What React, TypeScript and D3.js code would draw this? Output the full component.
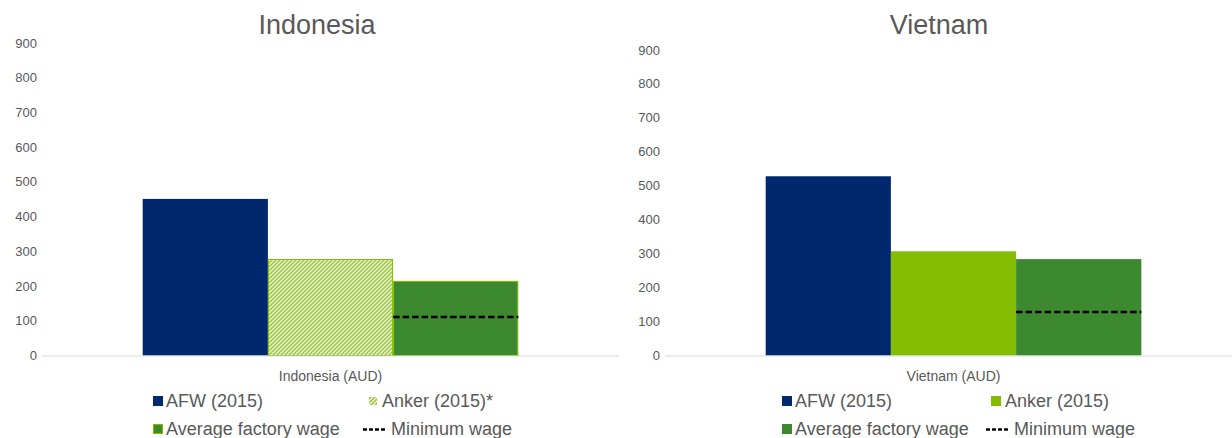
import * as d3 from "d3";

// values (AUD per month)
const seriesKeys = ["afw", "anker", "avg"];
const indonesiaValues = [451, 278, 215];
const vietnamValues = [528, 307, 284];
const indonesiaMinWage = 111;
const vietnamMinWage = 128;
const yTicks = [0, 100, 200, 300, 400, 500, 600, 700, 800, 900];

const NAVY = "#00286e";
const LIGHT = "#84bc00";
const DARK = "#3d892f";
const TEXT = "#595959";
const FONT = "'Liberation Sans', Arial, sans-serif";

type PanelProps = {
    title: string;
    titleX: number;
    category: string;
    values: number[];
    minWage: number;
    x0: number;
    x1: number;
    yTop: number;
    hatched: boolean;
    ankerLabel: string;
    legendX: [number, number];
};

function Panel({ title, titleX, category, values, minWage, x0, x1, yTop, hatched, ankerLabel, legendX }: PanelProps) {
    const y = d3.scaleLinear().domain([0, 900]).range([355.5, yTop]);
    const outer = d3.scaleBand<string>().domain([category]).range([x0, x1]).paddingOuter(0.268).paddingInner(0);
    const inner = d3.scaleBand<string>().domain(seriesKeys).range([0, outer.bandwidth()]);
    const gx = outer(category) || 0;
    const fills: Record<string, string> = {
        afw: NAVY,
        anker: hatched ? "url(#hatch)" : LIGHT,
        avg: DARK,
    };
    const avgX = gx + (inner("avg") || 0);

    return (
        <g fontFamily={FONT}>
            <text x={titleX} y={34} textAnchor="middle" fontSize={27} fill={TEXT}>
                {title}
            </text>
            {yTicks.map(t => (
                <text key={t} x={x0 - 5} y={y(t)} dy="0.35em" textAnchor="end" fontSize={13} fill={TEXT}>
                    {t}
                </text>
            ))}
            {seriesKeys.map((k, i) => {
                const bordered = hatched && k !== "afw";
                return (
                    <rect
                        key={k}
                        x={gx + (inner(k) || 0) + (bordered ? 0.5 : 0)}
                        y={y(values[i]) + (bordered ? 0.5 : 0)}
                        width={inner.bandwidth() - (bordered ? 1 : 0)}
                        height={y(0) - y(values[i]) - (bordered ? 0.5 : 0)}
                        fill={fills[k]}
                        stroke={bordered ? LIGHT : "none"}
                        strokeWidth={1}
                    />
                );
            })}
            <line
                x1={avgX}
                x2={avgX + inner.bandwidth()}
                y1={y(minWage)}
                y2={y(minWage)}
                stroke="#000"
                strokeWidth={2.5}
                strokeDasharray="6.5,3"
            />
            <line x1={x0} x2={x1} y1={y(0) + 0.5} y2={y(0) + 0.5} stroke="#d9d9d9" strokeWidth={1} />
            <text x={gx + outer.bandwidth() / 2} y={376} dy="0.35em" textAnchor="middle" fontSize={14} fill={TEXT}>
                {category}
            </text>

            {/* legend */}
            <g fontSize={18} fill={TEXT}>
                <rect x={legendX[0]} y={396} width={10} height={10} fill={NAVY} />
                <text x={legendX[0] + 13} y={401} dy="0.35em">AFW (2015)</text>
                <rect
                    x={legendX[1] + (hatched ? 0.5 : 0)}
                    y={396 + (hatched ? 0.5 : 0)}
                    width={hatched ? 9 : 10}
                    height={hatched ? 9 : 10}
                    fill={hatched ? "url(#hatch)" : LIGHT}
                    stroke={hatched ? "#fff" : "none"}
                />
                <text x={legendX[1] + 14} y={401} dy="0.35em">{ankerLabel}</text>
                <rect
                    x={legendX[0] + (hatched ? 0.5 : 0)}
                    y={424 + (hatched ? 0.5 : 0)}
                    width={hatched ? 9 : 10}
                    height={hatched ? 9 : 10}
                    fill={DARK}
                    stroke={hatched ? LIGHT : "none"}
                />
                <text x={legendX[0] + 13} y={429} dy="0.35em">Average factory wage</text>
                <line
                    x1={legendX[1] - 5}
                    x2={legendX[1] + 17}
                    y1={429.5}
                    y2={429.5}
                    stroke="#000"
                    strokeWidth={2.5}
                    strokeDasharray="4,2"
                />
                <text x={legendX[1] + 23} y={429} dy="0.35em">Minimum wage</text>
            </g>
        </g>
    );
}

export default function App() {
    return (
        <svg width={1232} height={438} style={{ position: "absolute", left: 0, top: 0, background: "#fff" }}>
            <defs>
                <pattern id="hatch" patternUnits="userSpaceOnUse" width={4} height={4}>
                    <rect width={4} height={4} fill="#fff" />
                    <path d="M-1,1 l2,-2 M0,4 l4,-4 M3,5 l2,-2" stroke="#9ccb3e" strokeWidth={1.7} />
                </pattern>
            </defs>
            <Panel
                title="Indonesia"
                titleX={317}
                category="Indonesia (AUD)"
                values={indonesiaValues}
                minWage={indonesiaMinWage}
                x0={42}
                x1={619}
                yTop={43}
                hatched={true}
                ankerLabel="Anker (2015)*"
                legendX={[153, 368]}
            />
            <Panel
                title="Vietnam"
                titleX={939}
                category="Vietnam (AUD)"
                values={vietnamValues}
                minWage={vietnamMinWage}
                x0={665}
                x1={1242}
                yTop={50}
                hatched={false}
                ankerLabel="Anker (2015)"
                legendX={[782, 991]}
            />
        </svg>
    );
}
